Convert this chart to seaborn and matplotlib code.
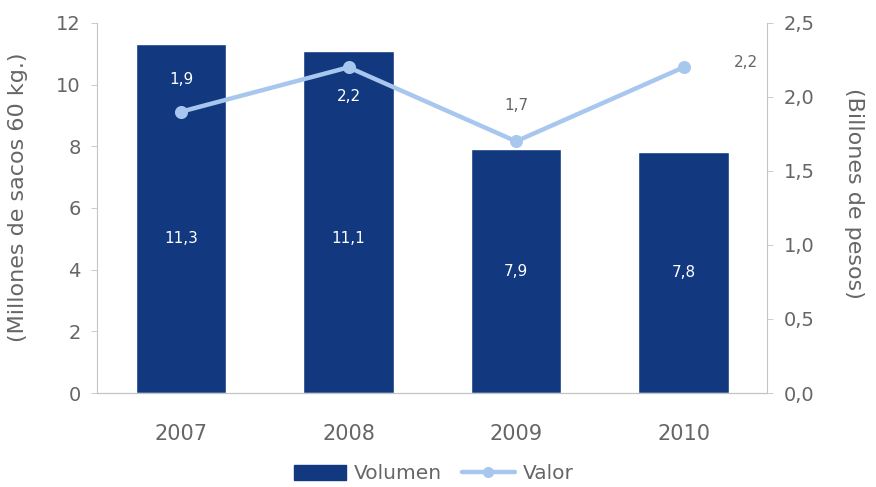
import matplotlib
matplotlib.use("Agg")
import matplotlib.pyplot as plt
from matplotlib.patches import Patch
from matplotlib.lines import Line2D
import seaborn as sns
import pandas as pd

years = ["2007", "2008", "2009", "2010"]
volumen = [11.3, 11.1, 7.9, 7.8]      # millones de sacos de 60 kg
valor = [1.9, 2.2, 1.7, 2.2]          # billones de pesos
left_ticks = [0, 2, 4, 6, 8, 10, 12]
right_ticks = ["0,0", "0,5", "1,0", "1,5", "2,0", "2,5"]

NAVY = "#12387f"
LIGHT = "#a8c7ee"
GREY = "#666666"
SPINE = "#c4c4c4"

sns.set_theme(style="white")
plt.rcParams["font.family"] = ["DejaVu Sans"]


def fmt(v):
    return f"{v:.1f}".replace(".", ",")


df = pd.DataFrame({"year": years, "volumen": volumen, "valor": valor})

fig = plt.figure(figsize=(8.76, 4.87), dpi=100)
ax = fig.add_axes([0.111, 0.193, 0.765, 0.760])

sns.barplot(data=df, x="year", y="volumen", color=NAVY, saturation=1,
            width=0.54, ax=ax)
ax.set_ylim(0, 12)
ax.set_xlim(-0.5, 3.5)
ax.set_xlabel("")
ax.set_ylabel("(Millones de sacos 60 kg.)", fontsize=16, color=GREY,
              labelpad=20)
ax.yaxis.label.set_y(0.53)

ax2 = ax.twinx()
sns.pointplot(data=df, x="year", y="valor", color=LIGHT, markers="o",
              markersize=7, linewidth=3.2, ax=ax2)
ax2.set_ylim(0, 2.5)
ax2.set_xlim(-0.5, 3.5)
ax2.set_ylabel("(Billones de pesos)", fontsize=16, color=GREY,
               rotation=270, labelpad=35)
ax2.yaxis.label.set_y(0.54)
ax2.set_xlabel("")

# Bar value labels inside the bars
for i, v in enumerate(volumen):
    ax.text(i, min(v / 2, 5.0), fmt(v), ha="center", va="center",
            color="white", fontsize=11)

# Line value labels
offsets = [(0, 0.22, "center", "white"), (0, -0.2, "center", "white"),
           (0, 0.245, "center", GREY), (0.3, 0.03, "left", GREY)]
for i, (v, (dx, dy, ha, col)) in enumerate(zip(valor, offsets)):
    ax2.text(i + dx, v + dy, fmt(v), ha=ha, va="center", color=col,
             fontsize=11)

for a in (ax, ax2):
    a.spines["top"].set_visible(False)
    for s in ("left", "right", "bottom"):
        a.spines[s].set_color(SPINE)
        a.spines[s].set_linewidth(0.8)
    a.tick_params(axis="y", colors=GREY, labelsize=14, length=4,
                  width=0.6, color=SPINE, pad=8)
ax.spines["right"].set_visible(False)
ax2.spines["left"].set_visible(False)

ax.set_yticks(left_ticks)
ax.set_yticklabels([str(t) for t in left_ticks])
ax2.set_yticks([0, 0.5, 1.0, 1.5, 2.0, 2.5])
ax2.set_yticklabels(right_ticks)

ax.set_xticks([0, 1, 2, 3])
ax.set_xticklabels(years)
ax.tick_params(axis="x", colors=GREY, labelsize=15, length=0, pad=22)
ax.set_xticks([-0.5, 0.5, 1.5, 2.5, 3.5], minor=True)
ax.tick_params(axis="x", which="minor", length=5, width=0.6, color=SPINE,
               direction="out")
ax2.tick_params(axis="x", length=0)

handles = [Patch(facecolor=NAVY, edgecolor=NAVY, label="Volumen"),
           Line2D([0], [0], color=LIGHT, lw=3.2, marker="o", markersize=7,
                  label="Valor")]
leg = fig.legend(handles=handles, loc="center", bbox_to_anchor=(0.495, 0.027),
                 ncol=2, frameon=False, fontsize=14.5, handlelength=2.6,
                 handleheight=0.8, columnspacing=1.0, handletextpad=0.4)
for t in leg.get_texts():
    t.set_color(GREY)

fig.savefig("out.png", dpi=100, facecolor="white")
